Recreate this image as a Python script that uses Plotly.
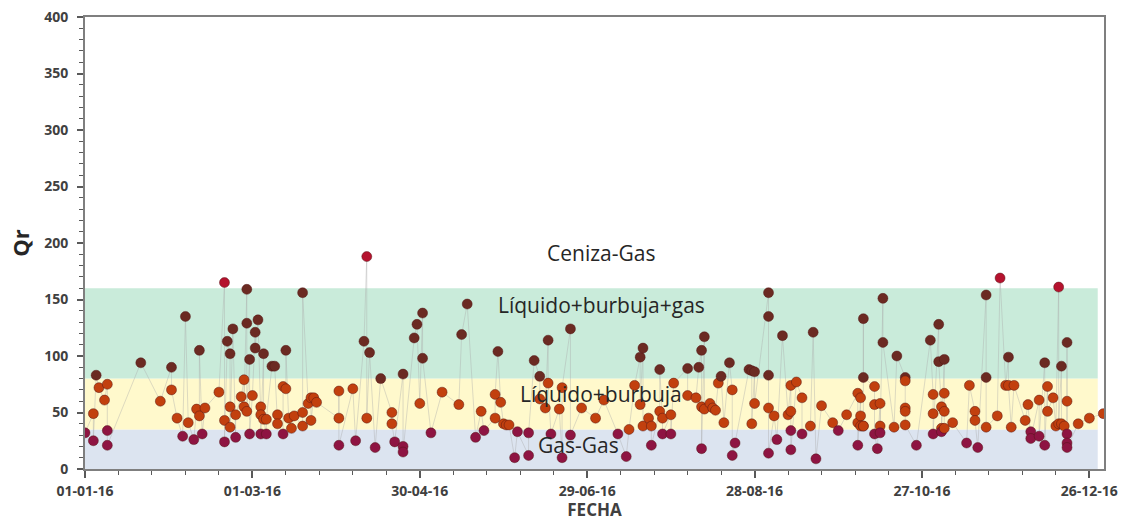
import plotly.graph_objects as go

# ---- data ----
dates = [
    "2016-01-01", "2016-01-04", "2016-01-04", "2016-01-05", "2016-01-06", "2016-01-08",
    "2016-01-09", "2016-01-09", "2016-01-09", "2016-01-21", "2016-01-28", "2016-02-01",
    "2016-02-01", "2016-02-03", "2016-02-05", "2016-02-06", "2016-02-07", "2016-02-09",
    "2016-02-10", "2016-02-11", "2016-02-11", "2016-02-12", "2016-02-13", "2016-02-18",
    "2016-02-20", "2016-02-20", "2016-02-20", "2016-02-21", "2016-02-22", "2016-02-22",
    "2016-02-22", "2016-02-23", "2016-02-24", "2016-02-24", "2016-02-26", "2016-02-27",
    "2016-02-27", "2016-02-28", "2016-02-28", "2016-02-28", "2016-02-29", "2016-02-29",
    "2016-03-01", "2016-03-02", "2016-03-02", "2016-03-03", "2016-03-04", "2016-03-04",
    "2016-03-04", "2016-03-05", "2016-03-05", "2016-03-06", "2016-03-06", "2016-03-08",
    "2016-03-09", "2016-03-10", "2016-03-10", "2016-03-12", "2016-03-12", "2016-03-13",
    "2016-03-13", "2016-03-14", "2016-03-15", "2016-03-16", "2016-03-19", "2016-03-19",
    "2016-03-19", "2016-03-21", "2016-03-22", "2016-03-22", "2016-03-23", "2016-03-24",
    "2016-04-01", "2016-04-01", "2016-04-01", "2016-04-06", "2016-04-07", "2016-04-10",
    "2016-04-11", "2016-04-11", "2016-04-12", "2016-04-14", "2016-04-16", "2016-04-20",
    "2016-04-20", "2016-04-21", "2016-04-24", "2016-04-24", "2016-04-24", "2016-04-28",
    "2016-04-29", "2016-04-30", "2016-05-01", "2016-05-01", "2016-05-04", "2016-05-08",
    "2016-05-14", "2016-05-15", "2016-05-17", "2016-05-20", "2016-05-22", "2016-05-23",
    "2016-05-27", "2016-05-27", "2016-05-28", "2016-05-29", "2016-05-30", "2016-05-31",
    "2016-06-01", "2016-06-03", "2016-06-04", "2016-06-08", "2016-06-08", "2016-06-10",
    "2016-06-12", "2016-06-12", "2016-06-14", "2016-06-15", "2016-06-15", "2016-06-16",
    "2016-06-19", "2016-06-20", "2016-06-20", "2016-06-23", "2016-06-23", "2016-06-27",
    "2016-07-02", "2016-07-05", "2016-07-10", "2016-07-13", "2016-07-14", "2016-07-16",
    "2016-07-18", "2016-07-18", "2016-07-19", "2016-07-19", "2016-07-21", "2016-07-22",
    "2016-07-22", "2016-07-25", "2016-07-25", "2016-07-26", "2016-07-26", "2016-07-29",
    "2016-07-29", "2016-07-30", "2016-08-04", "2016-08-04", "2016-08-07", "2016-08-08",
    "2016-08-09", "2016-08-09", "2016-08-09", "2016-08-10", "2016-08-10", "2016-08-12",
    "2016-08-13", "2016-08-14", "2016-08-15", "2016-08-16", "2016-08-17", "2016-08-19",
    "2016-08-20", "2016-08-20", "2016-08-21", "2016-08-26", "2016-08-27", "2016-08-27",
    "2016-08-28", "2016-08-28", "2016-09-02", "2016-09-02", "2016-09-02", "2016-09-02",
    "2016-09-02", "2016-09-04", "2016-09-05", "2016-09-07", "2016-09-09", "2016-09-10",
    "2016-09-10", "2016-09-10", "2016-09-10", "2016-09-12", "2016-09-14", "2016-09-14",
    "2016-09-17", "2016-09-18", "2016-09-19", "2016-09-21", "2016-09-25", "2016-09-27",
    "2016-09-30", "2016-10-04", "2016-10-04", "2016-10-04", "2016-10-05", "2016-10-05",
    "2016-10-05", "2016-10-06", "2016-10-06", "2016-10-06", "2016-10-06", "2016-10-10",
    "2016-10-10", "2016-10-10", "2016-10-11", "2016-10-12", "2016-10-12", "2016-10-12",
    "2016-10-13", "2016-10-13", "2016-10-17", "2016-10-18", "2016-10-21", "2016-10-21",
    "2016-10-21", "2016-10-21", "2016-10-21", "2016-10-25", "2016-10-30", "2016-10-31",
    "2016-10-31", "2016-10-31", "2016-11-02", "2016-11-02", "2016-11-03", "2016-11-03",
    "2016-11-03", "2016-11-04", "2016-11-04", "2016-11-04", "2016-11-04", "2016-11-07",
    "2016-11-12", "2016-11-13", "2016-11-15", "2016-11-15", "2016-11-16", "2016-11-19",
    "2016-11-19", "2016-11-19", "2016-11-23", "2016-11-24", "2016-11-26", "2016-11-27",
    "2016-11-27", "2016-11-28", "2016-11-29", "2016-12-03", "2016-12-04", "2016-12-05",
    "2016-12-05", "2016-12-08", "2016-12-08", "2016-12-10", "2016-12-10", "2016-12-11",
    "2016-12-11", "2016-12-13", "2016-12-14", "2016-12-15", "2016-12-15", "2016-12-16",
    "2016-12-16", "2016-12-17", "2016-12-18", "2016-12-18", "2016-12-18", "2016-12-18",
    "2016-12-18", "2016-12-22", "2016-12-26", "2016-12-31",
]
qr = [
    32, 49, 25, 83, 72, 61,
    75, 34, 21, 94, 60, 90,
    70, 45, 29, 135, 41, 26,
    53, 47, 105, 31, 54, 68,
    165, 43, 24, 113, 102, 55,
    37, 124, 28, 48, 64, 79,
    55, 159, 129, 51, 97, 31,
    65, 121, 107, 132, 55, 48,
    31, 102, 44, 31, 44, 91,
    91, 48, 40, 31, 73, 71,
    105, 45, 36, 47, 38, 50,
    156, 58, 63, 43, 63, 59,
    45, 69, 21, 71, 25, 113,
    188, 45, 103, 19, 80, 50,
    40, 24, 84, 20, 15, 116,
    128, 58, 138, 98, 32, 68,
    57, 119, 146, 28, 51, 34,
    45, 66, 104, 59, 40, 39,
    39, 10, 33, 12, 32, 96,
    82, 62, 54, 114, 76, 31,
    53, 10, 72, 124, 30, 54,
    45, 61, 31, 11, 35, 74,
    99, 57, 107, 38, 45, 38,
    21, 51, 88, 45, 31, 48,
    31, 76, 89, 65, 63, 90,
    105, 55, 18, 117, 53, 58,
    54, 52, 76, 82, 41, 94,
    70, 12, 23, 88, 87, 40,
    86, 58, 156, 135, 83, 54,
    14, 47, 26, 118, 48, 74,
    51, 34, 17, 77, 63, 31,
    38, 121, 9, 56, 41, 34,
    48, 67, 41, 21, 63, 47,
    38, 38, 38, 133, 81, 73,
    57, 31, 18, 58, 38, 32,
    151, 112, 37, 100, 81, 78,
    54, 51, 39, 21, 114, 66,
    49, 31, 128, 95, 55, 36,
    33, 97, 67, 51, 36, 41,
    23, 74, 51, 43, 19, 154,
    81, 37, 47, 169, 74, 99,
    74, 37, 74, 43, 57, 33,
    27, 61, 29, 94, 21, 73,
    51, 63, 38, 161, 40, 91,
    40, 38, 31, 112, 60, 23,
    19, 40, 45, 49,
]

# regime bands: (label, lower, upper, label position)
band_names = ["Gas-Gas", "Líquido+burbuja", "Líquido+burbuja+gas", "Ceniza-Gas"]
band_lower = [0, 35, 80, 160]
band_upper = [35, 80, 160, 400]
band_label_y = [21, 66, 145, 191]
band_label_x = ["2016-06-26", "2016-07-04", "2016-07-04", "2016-07-04"]
band_fill = ["#DCE4F0", "#FFF9CC", "#C9EBDA", None]
band_marker = ["#8E1442", "#C2400E", "#6B2A22", "#B5122E"]

x_ticks = ["2016-01-01", "2016-03-01", "2016-04-30", "2016-06-29",
           "2016-08-28", "2016-10-27", "2016-12-26"]
x_ticktext = ["01-01-16", "01-03-16", "30-04-16", "29-06-16",
              "28-08-16", "27-10-16", "26-12-16"]


def marker_color(v):
    for lo, hi, c in zip(band_lower, band_upper, band_marker):
        if lo <= v < hi:
            return c
    return band_marker[-1]


colors = [marker_color(v) for v in qr]

fig = go.Figure()
fig.add_trace(go.Scatter(
    x=dates, y=qr, mode="lines+markers",
    line=dict(color="rgba(170,170,170,0.5)", width=0.8),
    marker=dict(size=10, color=colors,
                line=dict(color="rgba(80,20,20,0.45)", width=1)),
    showlegend=False,
))

for name, lo, hi, fill, ly, lx in zip(band_names, band_lower, band_upper,
                                       band_fill, band_label_y, band_label_x):
    if fill is not None:
        fig.add_shape(type="rect", xref="x", yref="y",
                      x0="2016-01-01", x1="2016-12-29", y0=lo, y1=hi,
                      fillcolor=fill, line=dict(width=0), layer="below")
    fig.add_annotation(x=lx, y=ly, xref="x", yref="y", text=name,
                       showarrow=False,
                       font=dict(family="Open Sans", size=21, color="#262626"))

axis_font = dict(family="Open Sans", size=14, color="#404040", weight="bold")

fig.update_layout(
    width=1126, height=521,
    margin=dict(l=85, r=22, t=17, b=52),
    paper_bgcolor="white", plot_bgcolor="white",
    xaxis=dict(
        type="date", automargin=False,
        range=["2016-01-01", "2016-12-31 06:00"],
        tickvals=x_ticks, ticktext=x_ticktext,
        ticks="outside", ticklen=7, tickwidth=1.5, tickcolor="#595959",
        ticklabelstandoff=1,
        minor=dict(dtick=12 * 86400000, tick0="2016-01-01", ticks="outside",
                   ticklen=4, tickwidth=1.2, tickcolor="#595959", showgrid=False),
        showline=True, linecolor="#7F7F7F", linewidth=2, mirror=True,
        showgrid=False, zeroline=False,
        tickfont=axis_font,
        title=dict(text="<b>FECHA</b>", standoff=6,
                   font=dict(family="Open Sans", size=17, color="#404040")),
    ),
    yaxis=dict(
        range=[0, 400], dtick=50, automargin=False,
        ticks="outside", ticklen=6, tickwidth=1.5, tickcolor="#595959",
        ticklabelstandoff=6,
        minor=dict(dtick=10, ticks="outside", ticklen=4, tickwidth=1.2,
                   tickcolor="#595959", showgrid=False),
        showline=True, linecolor="#7F7F7F", linewidth=2, mirror=True,
        showgrid=False, zeroline=False,
        tickfont=axis_font,
        title=dict(text="<b>Qr</b>", standoff=8,
                   font=dict(family="Open Sans", size=22, color="#262626")),
    ),
)

fig.write_html("out.html")
